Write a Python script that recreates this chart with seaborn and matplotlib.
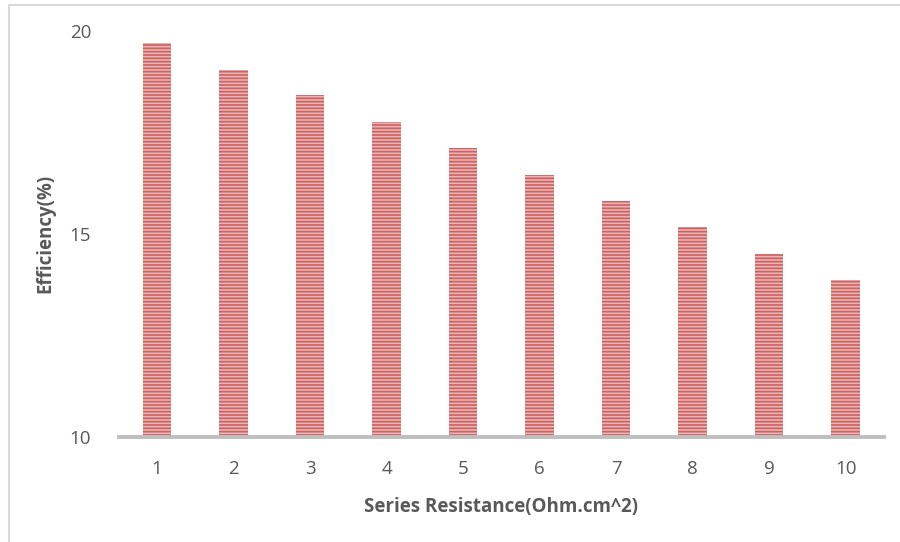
import matplotlib.pyplot as plt
import matplotlib.lines as mlines
import pandas as pd
import seaborn as sns

# values
resistance = [1, 2, 3, 4, 5, 6, 7, 8, 9, 10]
efficiency = [19.70, 19.04, 18.42, 17.76, 17.12, 16.45, 15.81, 15.17, 14.51, 13.87]

df = pd.DataFrame({"Series Resistance": resistance, "Efficiency": efficiency})

sns.set_style("white")
plt.rcParams["font.family"] = ["Open Sans", "DejaVu Sans"]
plt.rcParams["hatch.linewidth"] = 1.2

fig = plt.figure(figsize=(9, 5.42), dpi=100)
ax = fig.add_axes([0.132, 0.194, 0.850, 0.749])

sns.barplot(data=df, x="Series Resistance", y="Efficiency", color="#EBB3B3",
            width=0.37, saturation=1, ax=ax)
for bar in ax.patches:
    bar.set_hatch("-----")
    bar.set_edgecolor("#CB6262")
    bar.set_linewidth(0)

ax.set_ylim(10, 20)
ax.set_xlim(-0.5, 9.5)
ax.set_yticks([10, 15, 20])
ax.tick_params(axis="both", length=0, labelsize=13.5, colors="#595959")
ax.tick_params(axis="x", pad=17)
ax.tick_params(axis="y", pad=20)

for side in ["top", "right", "left"]:
    ax.spines[side].set_visible(False)
ax.spines["bottom"].set_color("#BFBFBF")
ax.spines["bottom"].set_linewidth(2.8)

ax.set_xlabel("Series Resistance(Ohm.cm^2)", fontsize=13.5, fontweight="bold",
              color="#595959", labelpad=13)
ax.set_ylabel("Efficiency(%)", fontsize=13.5, fontweight="bold",
              color="#595959", labelpad=10)

# chart frame (top and left edges visible)
fig.add_artist(mlines.Line2D([0.0095, 1.0], [0.991, 0.991], color="#D9D9D9",
                             lw=1.5, transform=fig.transFigure))
fig.add_artist(mlines.Line2D([0.0095, 0.0095], [0.0, 0.991], color="#D9D9D9",
                             lw=1.5, transform=fig.transFigure))

fig.savefig("out.png", dpi=100)
